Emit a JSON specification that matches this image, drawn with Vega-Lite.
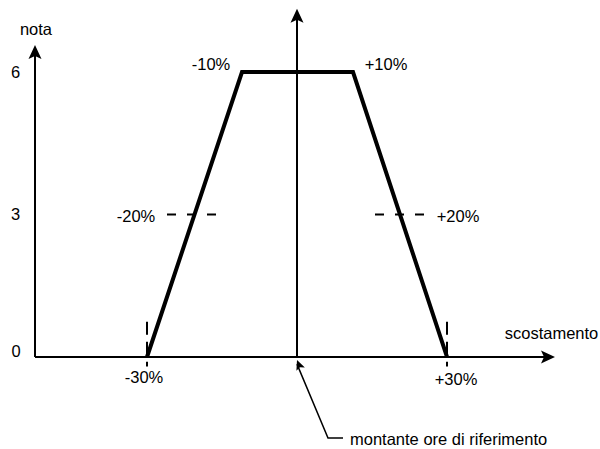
{
  "$schema": "https://vega.github.io/schema/vega-lite/v6.json",
  "width": 600,
  "height": 449,
  "autosize": {"type": "fit", "contains": "padding"},
  "padding": 0,
  "background": "white",
  "config": {"view": {"stroke": null}, "text": {"font": "Liberation Sans", "fontSize": 16.5, "color": "black"}},
  "datasets": {
    "axes": [
      {"name": "nota", "x": -52.4, "y": 0, "x2": -52.4, "y2": 6.42},
      {"name": "scostamento", "x": -52.4, "y": 0, "x2": 51.0, "y2": 0},
      {"name": "riferimento", "x": 0, "y": 0, "x2": 0, "y2": 7.2}
    ],
    "trapezio": [
      {"order": 1, "x": -30, "y": 0},
      {"order": 2, "x": -11, "y": 6},
      {"order": 3, "x": 11.2, "y": 6},
      {"order": 4, "x": 30, "y": 0}
    ],
    "dash_h": [
      {"x": -26, "x2": -16, "y": 3},
      {"x": 15.6, "x2": 25.6, "y": 3}
    ],
    "dash_v": [
      {"x": -30, "y": 0.74, "y2": -0.2},
      {"x": 30, "y": 0.74, "y2": -0.2}
    ],
    "annot": [
      {"order": 1, "x": 0, "y": -0.15},
      {"order": 2, "x": 6.2, "y": -1.705},
      {"order": 3, "x": 9.2, "y": -1.705}
    ],
    "arrows_up": [
      {"x": -52.4, "y": 6.57},
      {"x": 0, "y": 7.33}
    ],
    "arrows_right": [
      {"x": 51.6, "y": 0}
    ],
    "arrow_annot": [
      {"x": 0, "y": -0.063}
    ],
    "labels": [
      {"text": "nota", "x": -52.2, "y": 6.884},
      {"text": "6", "x": -56.3, "y": 5.979},
      {"text": "3", "x": -56.3, "y": 2.989},
      {"text": "0", "x": -56.2, "y": 0.105},
      {"text": "-10%", "x": -17.2, "y": 6.147},
      {"text": "+10%", "x": 17.8, "y": 6.147},
      {"text": "-20%", "x": -32.2, "y": 2.947},
      {"text": "+20%", "x": 32.2, "y": 2.947},
      {"text": "-30%", "x": -30.6, "y": -0.442},
      {"text": "+30%", "x": 31.8, "y": -0.484},
      {"text": "scostamento", "x": 50.9, "y": 0.484}
    ],
    "label_left": [
      {"text": "montante ore di riferimento", "x": 10.6, "y": -1.747}
    ]
  },
  "encoding": {
    "x": {"field": "x", "type": "quantitative", "scale": {"domain": [-59.4, 60.6], "nice": false, "zero": false}, "axis": null},
    "y": {"field": "y", "type": "quantitative", "scale": {"domain": [-1.937, 7.516], "nice": false, "zero": false}, "axis": null}
  },
  "layer": [
    {
      "data": {"name": "axes"},
      "mark": {"type": "rule", "strokeWidth": 2, "color": "black"},
      "encoding": {"x2": {"field": "x2"}, "y2": {"field": "y2"}}
    },
    {
      "data": {"name": "dash_h"},
      "mark": {"type": "rule", "strokeWidth": 2, "color": "black", "strokeDash": [9, 11]},
      "encoding": {"x2": {"field": "x2"}}
    },
    {
      "data": {"name": "dash_v"},
      "mark": {"type": "rule", "strokeWidth": 2, "color": "black", "strokeDash": [13, 7]},
      "encoding": {"y2": {"field": "y2"}}
    },
    {
      "data": {"name": "trapezio"},
      "mark": {"type": "line", "strokeWidth": 4, "color": "black", "strokeJoin": "miter"},
      "encoding": {"order": {"field": "order"}}
    },
    {
      "data": {"name": "annot"},
      "mark": {"type": "line", "strokeWidth": 1.5, "color": "black", "strokeJoin": "miter"},
      "encoding": {"order": {"field": "order"}}
    },
    {
      "data": {"name": "arrows_up"},
      "mark": {"type": "point", "shape": "M0,0L0.65,1.4L0,1.1L-0.65,1.4Z", "filled": true, "color": "black", "opacity": 1, "size": 400, "angle": 0}
    },
    {
      "data": {"name": "arrows_right"},
      "mark": {"type": "point", "shape": "M0,0L0.65,1.4L0,1.1L-0.65,1.4Z", "filled": true, "color": "black", "opacity": 1, "size": 400, "angle": 90}
    },
    {
      "data": {"name": "arrow_annot"},
      "mark": {"type": "point", "shape": "M0,0L0.65,1.4L0,1.1L-0.65,1.4Z", "filled": true, "color": "black", "opacity": 1, "size": 196, "angle": 338.3}
    },
    {
      "data": {"name": "labels"},
      "mark": {"type": "text", "align": "center", "baseline": "middle"},
      "encoding": {"text": {"field": "text"}}
    },
    {
      "data": {"name": "label_left"},
      "mark": {"type": "text", "align": "left", "baseline": "middle"},
      "encoding": {"text": {"field": "text"}}
    }
  ]
}
